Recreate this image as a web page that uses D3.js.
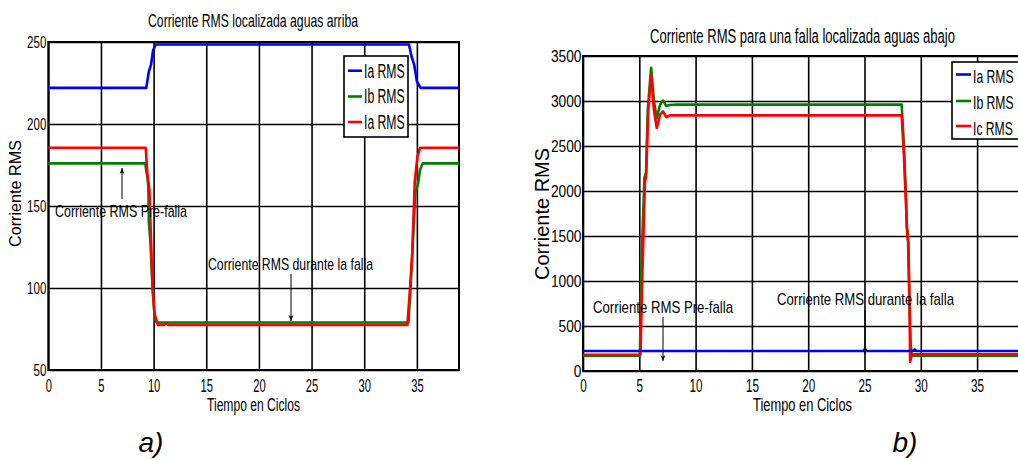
<!DOCTYPE html>
<html>
<head>
<meta charset="utf-8">
<script src="https://cdn.jsdelivr.net/npm/d3@7"></script>
<style>
  body { margin: 0; background: #fff; }
  text { font-family: "Liberation Sans", Arial, sans-serif; fill: #000; }
</style>
</head>
<body>
<script>
// ---------------- DATA ----------------
const xTicks = [0, 5, 10, 15, 20, 25, 30, 35];
const leftYTicks = [50, 100, 150, 200, 250];
const rightYTicks = [0, 500, 1000, 1500, 2000, 2500, 3000, 3500];

const leftTitle = "Corriente RMS localizada aguas arriba";
const rightTitle = "Corriente RMS para una falla localizada aguas abajo";
const leftLegend = ["Ia RMS", "Ib RMS", "Ia RMS"];
const rightLegend = ["Ia RMS", "Ib RMS", "Ic RMS"];

// Left panel (a): [cycle, RMS current]
const leftIa = [[0,222],[9.3,222],[9.55,232],[9.75,236],[9.95,245],[10.2,248.5],[34.25,248.5],[34.5,241],[34.75,236],[35.0,226],[35.35,222],[39,222]];
const leftIb = [[0,176],[9.2,176],[9.4,168],[9.5,162],[9.55,140],[9.7,128],[9.9,100],[10.1,82],[10.3,79],[34.2,79],[34.4,100],[34.6,125],[34.85,158],[35.1,163],[35.3,172],[35.55,176],[39,176]];
const leftIc = [[0,185.5],[9.25,185.5],[9.4,170],[9.6,160],[9.75,130],[9.9,100],[10.1,84],[10.4,77.5],[11.0,77.5],[11.2,78.5],[11.4,77.5],[34.1,77.5],[34.35,100],[34.55,120],[34.8,165],[35.05,180],[35.3,185.5],[39,185.5]];

// Right panel (b)
const rightIa = [[0,222],[29.3,222],[29.45,240],[29.6,222],[39,222]];
const rightIb = [[0,170],[5.05,170],[5.2,1200],[5.45,2150],[5.6,2200],[5.75,2900],[6.05,3370],[6.3,3000],[6.55,2810],[6.85,2960],[7.1,3005],[7.4,2945],[7.7,2955],[8.3,2960],[28.3,2960],[28.5,2500],[28.7,1900],[28.75,1600],[28.85,1540],[28.95,1000],[29.1,300],[29.2,170],[39,170]];
const rightIc = [[0,180],[5.1,180],[5.3,1200],[5.5,2100],[5.6,2150],[5.8,2900],[6.05,3290],[6.3,2900],[6.55,2700],[6.85,2850],[7.1,2885],[7.4,2820],[7.7,2840],[8.3,2840],[28.3,2840],[28.5,2400],[28.7,1800],[28.8,1500],[28.9,1430],[29.0,700],[29.05,100],[29.2,185],[39,185]];

const colors = ["#0000ff", "#008000", "#ff0000"];

// ---------------- DRAW ----------------
const svg = d3.select("body").append("svg").attr("width", 1018).attr("height", 460);

const defs = svg.append("defs");
defs.append("marker").attr("id", "arr").attr("viewBox", "0 0 10 10")
  .attr("refX", 10).attr("refY", 5).attr("markerWidth", 6).attr("markerHeight", 8)
  .attr("markerUnits", "userSpaceOnUse").attr("orient", "auto")
  .append("path").attr("d", "M0,1 L10,5 L0,9 L3,5 Z").attr("fill", "#000");

function fit(sel, sx) {
  sel.each(function () {
    const w = this.getComputedTextLength();
    d3.select(this).attr("textLength", w * sx).attr("lengthAdjust", "spacingAndGlyphs");
  });
}
function txt(x, y, s, size, width, opts = {}) {
  const t = svg.append("text").attr("x", x).attr("y", y).attr("font-size", size)
    .attr("text-anchor", opts.anchor || "middle").text(s);
  if (opts.italic) t.attr("font-style", "italic");
  if (opts.rotate) t.attr("transform", `rotate(-90,${x},${y})`);
  if (width) t.attr("textLength", width).attr("lengthAdjust", "spacingAndGlyphs");
  return t;
}
function arrow(x, y1, y2) {
  svg.append("line").attr("x1", x).attr("x2", x).attr("y1", y1).attr("y2", y2)
    .attr("stroke", "#000").attr("stroke-width", 1).attr("marker-end", "url(#arr)");
}

function panel(cfg) {
  const x = d3.scaleLinear().domain([0, 39]).range([cfg.x0, cfg.x1]);
  const y = d3.scaleLinear().domain(cfg.yDomain).range([cfg.y1, cfg.y0]);
  const g = svg.append("g");
  const H = cfg.y1 - cfg.y0, W = cfg.x1 - cfg.x0;

  // x axis with grid
  const gx = g.append("g").attr("transform", `translate(0,${cfg.y1})`)
    .call(d3.axisBottom(x).tickValues(xTicks).tickSize(-H).tickFormat(d3.format("d")));
  gx.select(".domain").remove();
  gx.selectAll("line").attr("stroke", "#000").attr("stroke-width", 1.6);
  gx.selectAll("text").attr("y", cfg.xTickBase - cfg.y1).attr("dy", 0)
    .attr("font-size", cfg.xTickSize).attr("font-family", null);
  fit(gx.selectAll("text"), cfg.xTickSx);

  // y axis with grid
  const gy = g.append("g").attr("transform", `translate(${cfg.x0},0)`)
    .call(d3.axisLeft(y).tickValues(cfg.yTicks).tickSize(-W).tickFormat(d3.format("d")));
  gy.select(".domain").remove();
  gy.selectAll("line").attr("stroke", "#000").attr("stroke-width", 1.6);
  gy.selectAll("text").attr("x", cfg.yTickDx).attr("dy", "0.36em")
    .attr("font-size", cfg.yTickSize).attr("font-family", null);
  fit(gy.selectAll("text"), cfg.yTickSx);

  // frame
  g.append("rect").attr("x", cfg.x0).attr("y", cfg.y0).attr("width", W).attr("height", H)
    .attr("fill", "none").attr("stroke", "#000").attr("stroke-width", 2);

  // series
  const line = d3.line().x(d => x(d[0])).y(d => y(d[1]));
  cfg.series.forEach((s, i) => {
    g.append("path").datum(s.data).attr("d", line).attr("fill", "none")
      .attr("stroke", s.color).attr("stroke-width", 2.6).attr("stroke-linejoin", "round");
  });

  // legend
  const L = cfg.legend;
  g.append("rect").attr("x", L.x).attr("y", L.y).attr("width", L.w).attr("height", L.h)
    .attr("fill", "#fff").attr("stroke", "#000").attr("stroke-width", 1.6);
  cfg.legendLabels.forEach((lab, i) => {
    g.append("line").attr("x1", L.sx0).attr("x2", L.sx1)
      .attr("y1", L.swY[i]).attr("y2", L.swY[i])
      .attr("stroke", colors[i]).attr("stroke-width", 2.6);
    const t = g.append("text").attr("x", L.tx).attr("y", L.base[i])
      .attr("font-size", L.size).text(lab);
    fit(t, L.sxText);
  });
}

// Panel a
panel({
  x0: 48.3, x1: 459, y0: 42, y1: 370, yDomain: [50, 250], yTicks: leftYTicks,
  xTickBase: 392, xTickSize: 18, xTickSx: 0.62,
  yTickDx: -2, yTickSize: 16, yTickSx: 0.72,
  series: [{data: leftIa, color: colors[0]}, {data: leftIb, color: colors[1]}, {data: leftIc, color: colors[2]}],
  legendLabels: leftLegend,
  legend: {x: 344, y: 56, w: 64, h: 81, sx0: 348, sx1: 362, tx: 364,
           swY: [70.7, 96.5, 122], base: [78, 103, 128.5], size: 20, sxText: 0.61}
});
// Panel b
panel({
  x0: 583, x1: 583 + 39 * 11.26, y0: 56, y1: 371, yDomain: [0, 3500], yTicks: rightYTicks,
  xTickBase: 392, xTickSize: 18, xTickSx: 0.65,
  yTickDx: -1.5, yTickSize: 16, yTickSx: 0.86,
  series: [{data: rightIb, color: colors[1]}, {data: rightIc, color: colors[2]}, {data: rightIa, color: colors[0]}],
  legendLabels: rightLegend,
  legend: {x: 952, y: 62, w: 120, h: 77, sx0: 956, sx1: 971, tx: 973,
           swY: [74.5, 101, 126], base: [83, 109, 134.5], size: 19, sxText: 0.64}
});

// titles, axis labels
txt(253, 27, leftTitle, 19, 210);
txt(802.5, 43, rightTitle, 20, 305);
txt(253.5, 411, "Tiempo en Ciclos", 18, 93);
txt(802.5, 411, "Tiempo en Ciclos", 19, 99);
txt(21, 193.5, "Corriente RMS", 16, 107, {rotate: true});
txt(549, 214, "Corriente RMS", 20, 132, {rotate: true});
txt(151, 452, "a)", 28, null, {italic: true});
txt(905, 452, "b)", 28, null, {italic: true});

// annotations
txt(55, 217, "Corriente RMS Pre-falla", 17, 132, {anchor: "start"});
arrow(122, 199, 168);
txt(208, 270, "Corriente RMS durante la falla", 17, 165, {anchor: "start"});
arrow(291, 274, 321);
txt(593, 313, "Corriente RMS Pre-falla", 17, 140, {anchor: "start"});
arrow(663, 317, 361);
txt(777, 305, "Corriente RMS durante la falla", 17, 177, {anchor: "start"});
arrow(865, 310, 354);
</script>
</body>
</html>
